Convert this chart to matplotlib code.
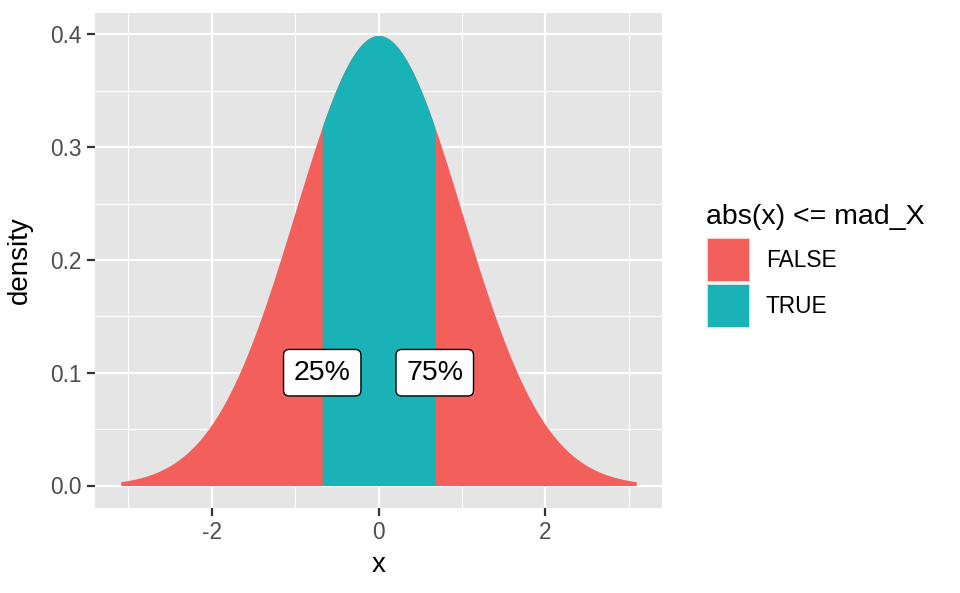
import numpy as np
import matplotlib
matplotlib.use("Agg")
import matplotlib.pyplot as plt
from matplotlib.patches import Rectangle

plt.rcParams["font.family"] = ["Liberation Sans", "DejaVu Sans"]

# standard normal density over +-qnorm(0.999), split at the MAD
x_lo, x_hi = -3.09, 3.09
mad_X = 0.6745
n_pts = 600
groups = ["FALSE", "TRUE"]
colors = {"FALSE": "#F35F5B", "TRUE": "#19B3B7"}
label_x = [-mad_X, mad_X]
label_y = [0.1, 0.1]
label_txt = ["25%", "75%"]

x = np.linspace(x_lo, x_hi, n_pts)
x = np.sort(np.concatenate([x, [-mad_X, mad_X]]))
dens = np.exp(-x ** 2 / 2) / np.sqrt(2 * np.pi)
inside = np.abs(x) <= mad_X + 1e-9

W, H = 960, 593
fig = plt.figure(figsize=(W / 100, H / 100), dpi=100)
ax = fig.add_axes([95 / W, 1 - 508 / H, (662 - 95) / W, (508 - 13) / H])
ax.set_facecolor("#E5E5E5")

# grid
for v in [-3, -1, 1, 3]:
    ax.axvline(v, color="white", lw=0.8, zorder=0)
for v in [0.05, 0.15, 0.25, 0.35]:
    ax.axhline(v, color="white", lw=0.8, zorder=0)
for v in [-2, 0, 2]:
    ax.axvline(v, color="white", lw=1.6, zorder=0)
for v in [0, 0.1, 0.2, 0.3, 0.4]:
    ax.axhline(v, color="white", lw=1.6, zorder=0)

# red under the whole curve, teal on top for |x| <= mad
ax.fill_between(x, 0, dens, color=colors["FALSE"], lw=0, zorder=2)
ax.fill_between(x, 0, dens, where=inside, color=colors["TRUE"], lw=0, zorder=3)

for lx, ly, t in zip(label_x, label_y, label_txt):
    ax.text(lx, ly, t, ha="center", va="center", fontsize=20.5, zorder=5,
            bbox=dict(boxstyle="round,pad=0.36,rounding_size=0.2", fc="white",
                      ec="black", lw=1.0))

rng = x_hi - x_lo
ax.set_xlim(x_lo - 0.05 * rng, x_hi + 0.05 * rng)
ymax = dens.max()
ax.set_ylim(-0.05 * ymax, ymax * 1.05)
ax.set_xticks([-2, 0, 2])
ax.set_xticklabels(["-2", "0", "2"])
ax.set_yticks([0, 0.1, 0.2, 0.3, 0.4])
ax.set_yticklabels(["0.0", "0.1", "0.2", "0.3", "0.4"])
ax.tick_params(length=5.5, width=1.6, color="#333333", labelcolor="#4D4D4D",
               labelsize=16.3, pad=4)
for s in ax.spines.values():
    s.set_visible(False)
ax.set_xlabel("x", fontsize=20)
ax.set_ylabel("density", fontsize=20)
ax.xaxis.set_label_coords(0.5, (508 - 565) / 495)
ax.yaxis.set_label_coords((20 - 95) / 567, 0.5)
ax.xaxis.label.set_va("center")
ax.yaxis.label.set_va("center")

# legend
fig.text(706 / W, 1 - 217 / H, "abs(x) <= mad_X", fontsize=20.5,
         ha="left", va="center")
for i, g in enumerate(groups):
    top = 238 + i * 46
    fig.patches.append(Rectangle((707 / W, 1 - (top + 44) / H), 43 / W, 44 / H,
                                 transform=fig.transFigure, fc=colors[g],
                                 ec="#F2F2F2", lw=1.2))
    fig.text(766 / W, 1 - (top + 22) / H, g, fontsize=16.3, ha="left", va="center")

fig.savefig("out.png", dpi=100)
